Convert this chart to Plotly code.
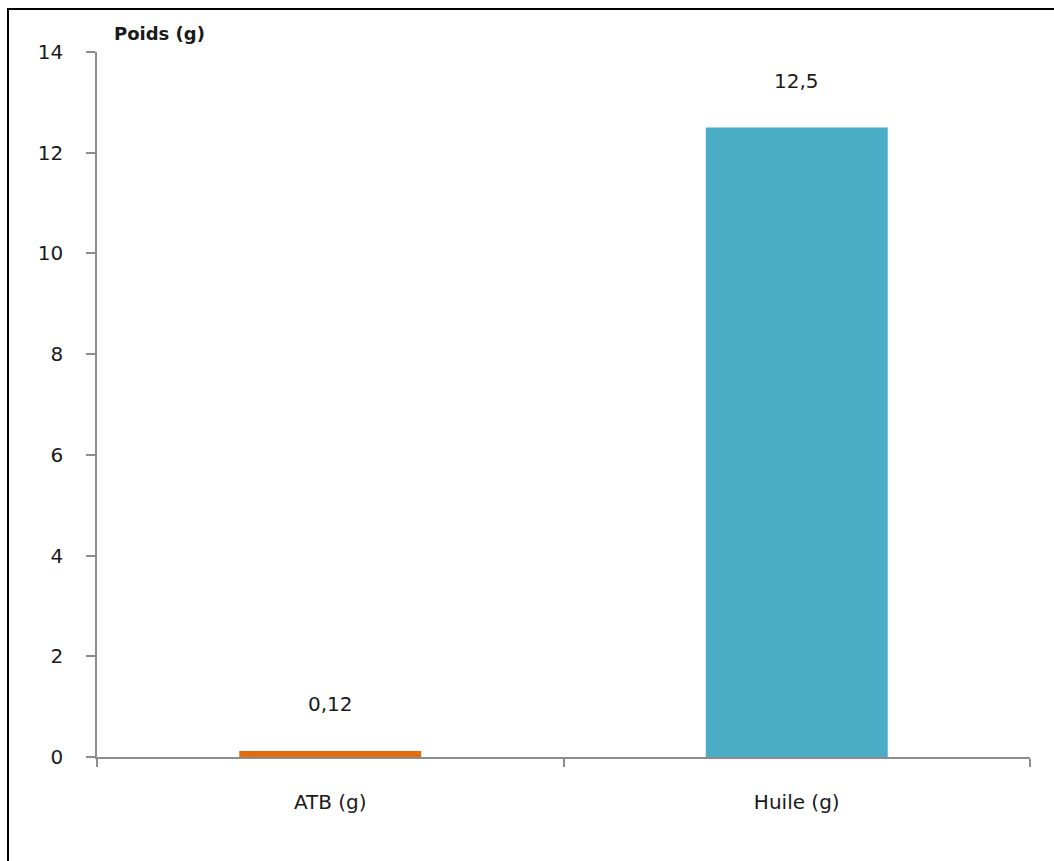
import plotly.graph_objects as go

categories = ["ATB (g)", "Huile (g)"]
values = [0.12, 12.5]
bar_colors = ["#E46C0A", "#4BACC6"]
y_ticks = [0, 2, 4, 6, 8, 10, 12, 14]
y_title = "Poids (g)"

FONT = "DejaVu Sans"
TEXT = "#1a1a1a"
AXIS_GREY = "#8C8C8C"

W, H = 1054, 861
ML, MR, MT, MB = 97, 24, 52, 104
PW, PH = W - ML - MR, H - MT - MB

fig = go.Figure()
fig.add_trace(go.Bar(
    x=categories,
    y=values,
    marker=dict(color=bar_colors, line=dict(width=0)),
    width=0.39,
    hoverinfo="skip",
))

# value labels above each bar, French decimal comma
for cat, val in zip(categories, values):
    fig.add_annotation(
        x=cat, y=val, xref="x", yref="y",
        text=f"{val:g}".replace(".", ","),
        showarrow=False, yshift=47,
        font=dict(family=FONT, size=20, color=TEXT),
    )

# axis title placed above the value axis (pixel position -> paper coords)
fig.add_annotation(
    x=(112 - ML) / PW, y=(H - MB - 33) / PH,
    xref="paper", yref="paper",
    text=f"<b>{y_title}</b>", showarrow=False,
    xanchor="left", yanchor="middle",
    font=dict(family=FONT, size=18, color=TEXT),
)

# outer frame around the whole chart
fig.add_shape(
    type="rect", xref="paper", yref="paper",
    x0=(8 - ML) / PW, x1=(W + 20 - ML) / PW,
    y0=(H - MB - (H + 20)) / PH, y1=(H - MB - 9) / PH,
    line=dict(color="#000000", width=2), fillcolor="rgba(0,0,0,0)",
    layer="above",
)

fig.update_layout(
    width=W, height=H,
    margin=dict(l=ML, r=MR, t=MT, b=MB),
    paper_bgcolor="white", plot_bgcolor="white",
    showlegend=False,
    font=dict(family=FONT, size=20, color=TEXT),
    xaxis=dict(
        showline=True, linecolor=AXIS_GREY, linewidth=1.5,
        ticks="outside", ticklen=8, tickcolor=AXIS_GREY, tickwidth=1.5,
        tickson="boundaries", showgrid=False, zeroline=False,
        ticklabelstandoff=26,
        tickfont=dict(family=FONT, size=20, color=TEXT),
    ),
    yaxis=dict(
        range=[0, 14], tickvals=y_ticks,
        showline=True, linecolor=AXIS_GREY, linewidth=1.5,
        ticks="outside", ticklen=9, tickcolor=AXIS_GREY, tickwidth=1.5,
        showgrid=False, zeroline=False,
        ticklabelstandoff=19,
        tickfont=dict(family=FONT, size=20, color=TEXT),
    ),
)

fig.write_html("out.html")
